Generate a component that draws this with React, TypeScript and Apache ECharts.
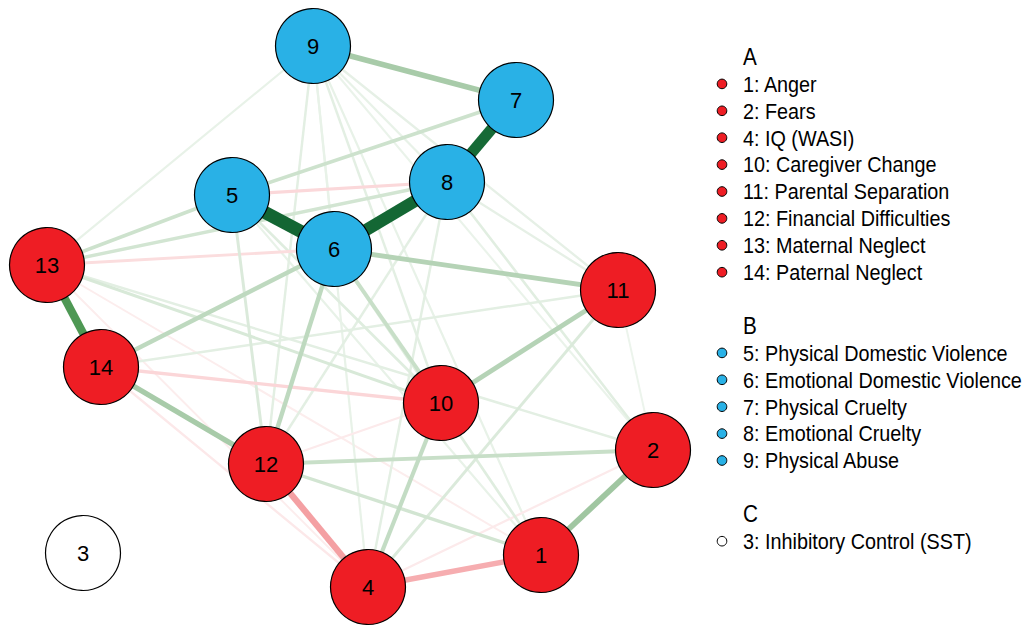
import React, { useEffect, useRef } from "react";
import * as echarts from "echarts";

// ---- data ----
const nodeIds = ["1", "2", "3", "4", "5", "6", "7", "8", "9", "10", "11", "12", "13", "14"];
const nodeNames = [
  "Anger", "Fears", "Inhibitory Control (SST)", "IQ (WASI)", "Physical Domestic Violence",
  "Emotional Domestic Violence", "Physical Cruelty", "Emotional Cruelty", "Physical Abuse",
  "Caregiver Change", "Parental Separation", "Financial Difficulties", "Maternal Neglect", "Paternal Neglect",
];
const nodeGroup = ["A", "A", "C", "A", "B", "B", "B", "B", "B", "A", "A", "A", "A", "A"];
// layout coordinates
const layoutX = [541, 653, 83, 368, 232, 334, 516, 447, 313, 441, 618, 266, 47, 101];
const layoutY = [555, 450, 553, 587, 195, 249, 100, 182, 46, 403, 290, 464, 265, 367];
const groupTitles = ["A", "B", "C"];
// edges: [from, to, signed weight]
const edges: [number, number, number][] = [
  [5, 6, 0.95], [6, 8, 0.9], [7, 8, 0.8], [13, 14, 0.55],
  [9, 7, 0.33], [1, 2, 0.36], [14, 12, 0.33], [6, 11, 0.28], [10, 11, 0.28],
  [12, 4, -0.4], [4, 1, -0.34],
  [6, 14, 0.24], [6, 12, 0.24], [10, 4, 0.22], [12, 2, 0.2], [6, 10, 0.2],
  [5, 13, 0.18], [7, 5, 0.18], [8, 13, 0.16], [12, 1, 0.16],
  [8, 5, -0.14], [13, 6, -0.12], [14, 10, -0.15],
  [4, 11, 0.12], [13, 10, 0.13], [5, 12, 0.12], [5, 10, 0.1], [6, 1, 0.1],
  [14, 11, 0.08], [12, 8, 0.08], [4, 8, 0.08], [8, 2, 0.09], [8, 11, 0.07],
  [9, 11, 0.07], [9, 12, 0.08], [9, 10, 0.08], [9, 4, 0.06], [9, 1, 0.06],
  [9, 13, 0.06], [9, 2, 0.05], [13, 2, 0.08], [1, 5, 0.06], [11, 2, 0.04],
  [9, 6, 0.06], [9, 8, 0.06],
  [4, 2, -0.06], [12, 10, -0.06], [14, 4, -0.07], [13, 1, -0.04], [13, 4, -0.04],
];

// ---- styles ----
const groupColor: Record<string, string> = { A: "#ee1d24", B: "#29b1e6", C: "#ffffff" };
const FONT = "'Liberation Sans', Arial, sans-serif";

const posStops: [number, [number, number, number]][] = [
  [0, [246, 250, 246]],
  [0.05, [234, 243, 234]],
  [0.15, [212, 230, 212]],
  [0.3, [176, 208, 177]],
  [0.4, [150, 192, 150]],
  [0.55, [78, 152, 84]],
  [0.8, [22, 106, 54]],
  [1, [18, 100, 50]],
];
const negStops: [number, [number, number, number]][] = [
  [0, [253, 242, 242]],
  [0.06, [252, 234, 235]],
  [0.15, [251, 214, 216]],
  [0.4, [244, 160, 163]],
  [1, [220, 60, 60]],
];
function interp(stops: [number, [number, number, number]][], t: number) {
  for (let i = 1; i < stops.length; i++) {
    if (t <= stops[i][0]) {
      const [t0, c0] = stops[i - 1];
      const [t1, c1] = stops[i];
      const f = (t - t0) / (t1 - t0);
      const c = c0.map((v, k) => Math.round(v + (c1[k] - v) * f));
      return `rgb(${c[0]},${c[1]},${c[2]})`;
    }
  }
  const c = stops[stops.length - 1][1];
  return `rgb(${c[0]},${c[1]},${c[2]})`;
}

export default function App() {
  const ref = useRef<HTMLDivElement>(null);
  useEffect(() => {
    document.body.style.margin = "0";
    if (!ref.current) return;
    const chart = echarts.init(ref.current, undefined, { renderer: "svg" });

    const minX = Math.min(...layoutX), maxX = Math.max(...layoutX);
    const minY = Math.min(...layoutY), maxY = Math.max(...layoutY);

    const nodes = nodeIds.map((id, i) => ({
      name: id,
      x: layoutX[i],
      y: layoutY[i],
      itemStyle: { color: groupColor[nodeGroup[i]], borderColor: "#000", borderWidth: 1.2 },
    }));

    const links = [...edges]
      .sort((a, b) => Math.abs(a[2]) - Math.abs(b[2]))
      .map(([s, t, w]) => {
        const a = Math.abs(w);
        return {
          source: String(s),
          target: String(t),
          lineStyle: {
            color: w > 0 ? interp(posStops, a) : interp(negStops, a),
            width: 1.5 + 12 * a,
            opacity: 1,
            curveness: 0,
          },
        };
      });

    // legend graphics
    const legendEls: any[] = [];
    let row = 0;
    const y0 = 57, step = 26.9, dotX = 722, textX = 743, sx = 0.9;
    groupTitles.forEach((g, gi) => {
      if (gi > 0) row++;
      legendEls.push({
        type: "text",
        x: textX,
        y: y0 + row * step,
        scaleX: sx,
        style: { text: g, font: `500 23px ${FONT}`, fill: "#000", textVerticalAlign: "middle", textAlign: "left" },
      });
      row++;
      nodeIds.forEach((id, i) => {
        if (nodeGroup[i] !== g) return;
        const yy = y0 + row * step;
        legendEls.push({
          type: "circle",
          shape: { cx: dotX, cy: yy, r: 4.8 },
          style: { fill: groupColor[g], stroke: "#000", lineWidth: 1 },
        });
        legendEls.push({
          type: "text",
          x: textX,
          y: yy,
          scaleX: sx,
          style: {
            text: `${id}: ${nodeNames[i]}`,
            font: `22px ${FONT}`,
            fill: "#000",
            textVerticalAlign: "middle",
            textAlign: "left",
          },
        });
        row++;
      });
    });

    chart.setOption({
      animation: false,
      backgroundColor: "#fff",
      graphic: { elements: legendEls },
      series: [
        {
          type: "graph",
          layout: "none",
          left: minX,
          top: minY,
          width: maxX - minX,
          height: maxY - minY,
          symbol: "circle",
          symbolSize: 75,
          roam: false,
          data: nodes,
          links,
          label: {
            show: true,
            position: "inside",
            color: "#000",
            fontSize: 22,
            fontFamily: FONT,
          },
          emphasis: { disabled: true },
          lineStyle: { opacity: 1 },
          edgeSymbol: ["none", "none"],
        },
      ],
    });
    return () => chart.dispose();
  }, []);
  return <div ref={ref} style={{ width: 1024, height: 626 }} />;
}
